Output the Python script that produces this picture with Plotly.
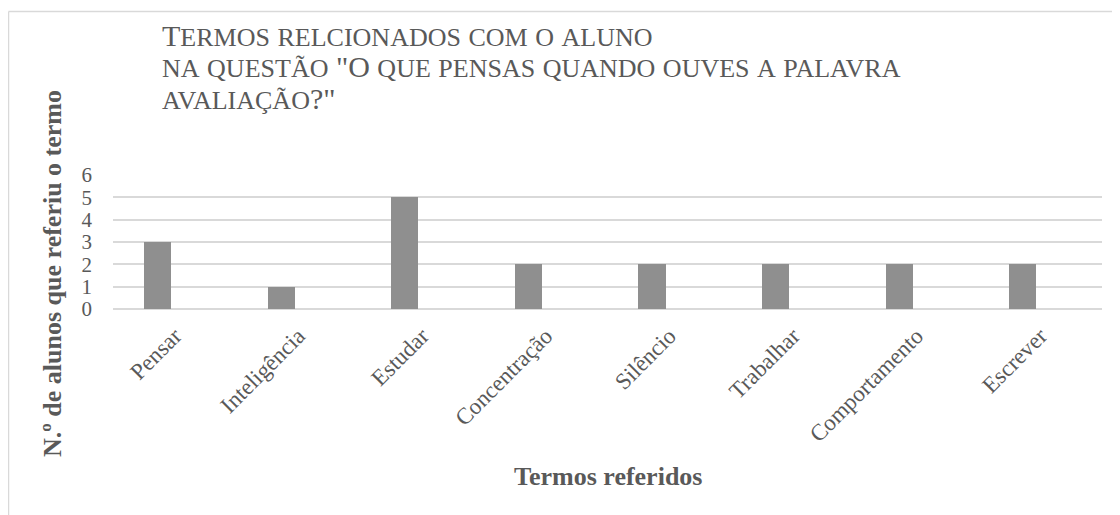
import plotly.graph_objects as go

categories = ["Pensar", "Inteligência", "Estudar", "Concentração", "Silêncio",
              "Trabalhar", "Comportamento", "Escrever"]
values = [3, 1, 5, 2, 2, 2, 2, 2]
y_ticks = [0, 1, 2, 3, 4, 5, 6]
title_lines = ['Termos relcionados com o aluno',
               'na questão "O que pensas quando ouves a palavra',
               'avaliação?"']
y_title = "N.º de alunos que referiu o termo"
x_title = "Termos referidos"

OFF = 8  # page offset of the figure (body margin)
W, H = 1120 - OFF, 515 - OFF
L, R, T, B = 113 - OFF, 18, 175 - OFF, 515 - 309
PW, PH = W - L - R, H - T - B
FONT = "Liberation Serif"
TXT = "#595959"


def px_x(px):
    return (px - OFF - L) / PW


def px_y(py):
    return 1 - (py - OFF - T) / PH


def small_caps(s, big=30, small=26):
    out = []
    for ch in s:
        if ch.isalpha() and ch.islower():
            out.append('<span style="font-size:%dpx">%s</span>' % (small, ch.upper()))
        else:
            out.append('<span style="font-size:%dpx">%s</span>' % (big, ch))
    return "".join(out)


fig = go.Figure()
fig.add_trace(go.Bar(
    x=categories, y=values,
    marker=dict(color="#8f8f8f", line=dict(width=0)),
    width=0.22, offset=-0.25,
))

annotations = []
for i, line in enumerate(title_lines):
    annotations.append(dict(
        text=small_caps(line), xref="paper", yref="paper",
        x=px_x(160), y=px_y(35 + i * 31.5), xanchor="left", yanchor="middle",
        showarrow=False, font=dict(family=FONT, size=30, color=TXT),
    ))
annotations.append(dict(
    text="<b>%s</b>" % y_title, xref="paper", yref="paper",
    x=px_x(52), y=px_y(274), xanchor="center", yanchor="middle", textangle=-90,
    showarrow=False, font=dict(family=FONT, size=26, color=TXT),
))
annotations.append(dict(
    text="<b>%s</b>" % x_title, xref="paper", yref="paper",
    x=px_x(608), y=px_y(476), xanchor="center", yanchor="middle",
    showarrow=False, font=dict(family=FONT, size=26, color=TXT),
))

border = "#d9d9d9"
shapes = [
    dict(type="line", xref="paper", yref="paper",
         x0=px_x(8.5), x1=px_x(1130), y0=px_y(11.5), y1=px_y(11.5),
         line=dict(color=border, width=1.5)),
    dict(type="line", xref="paper", yref="paper",
         x0=px_x(8.5), x1=px_x(8.5), y0=px_y(11.5), y1=px_y(530),
         line=dict(color=border, width=1.5)),
]

fig.update_layout(
    width=W, height=H,
    margin=dict(l=L, r=R, t=T, b=B, pad=0),
    paper_bgcolor="white", plot_bgcolor="white",
    showlegend=False,
    font=dict(family=FONT, color=TXT),
    annotations=annotations, shapes=shapes,
    bargap=0,
)
fig.update_xaxes(
    type="category", range=[-0.5, len(categories) - 0.5],
    tickangle=-45, tickfont=dict(family=FONT, size=23, color=TXT),
    showgrid=False, showline=False, zeroline=False, ticks="",
    ticklabelstandoff=8,
)
fig.update_yaxes(
    range=[0, 6], tickvals=y_ticks, ticktext=[str(v) for v in y_ticks],
    tickfont=dict(family=FONT, size=21, color=TXT),
    showgrid=True, gridcolor="#d9d9d9", gridwidth=1.5,
    zeroline=True, zerolinecolor="#d9d9d9", zerolinewidth=1.5,
    showline=False, ticks="", ticklabelstandoff=20,
)

fig.write_html("out.html")
